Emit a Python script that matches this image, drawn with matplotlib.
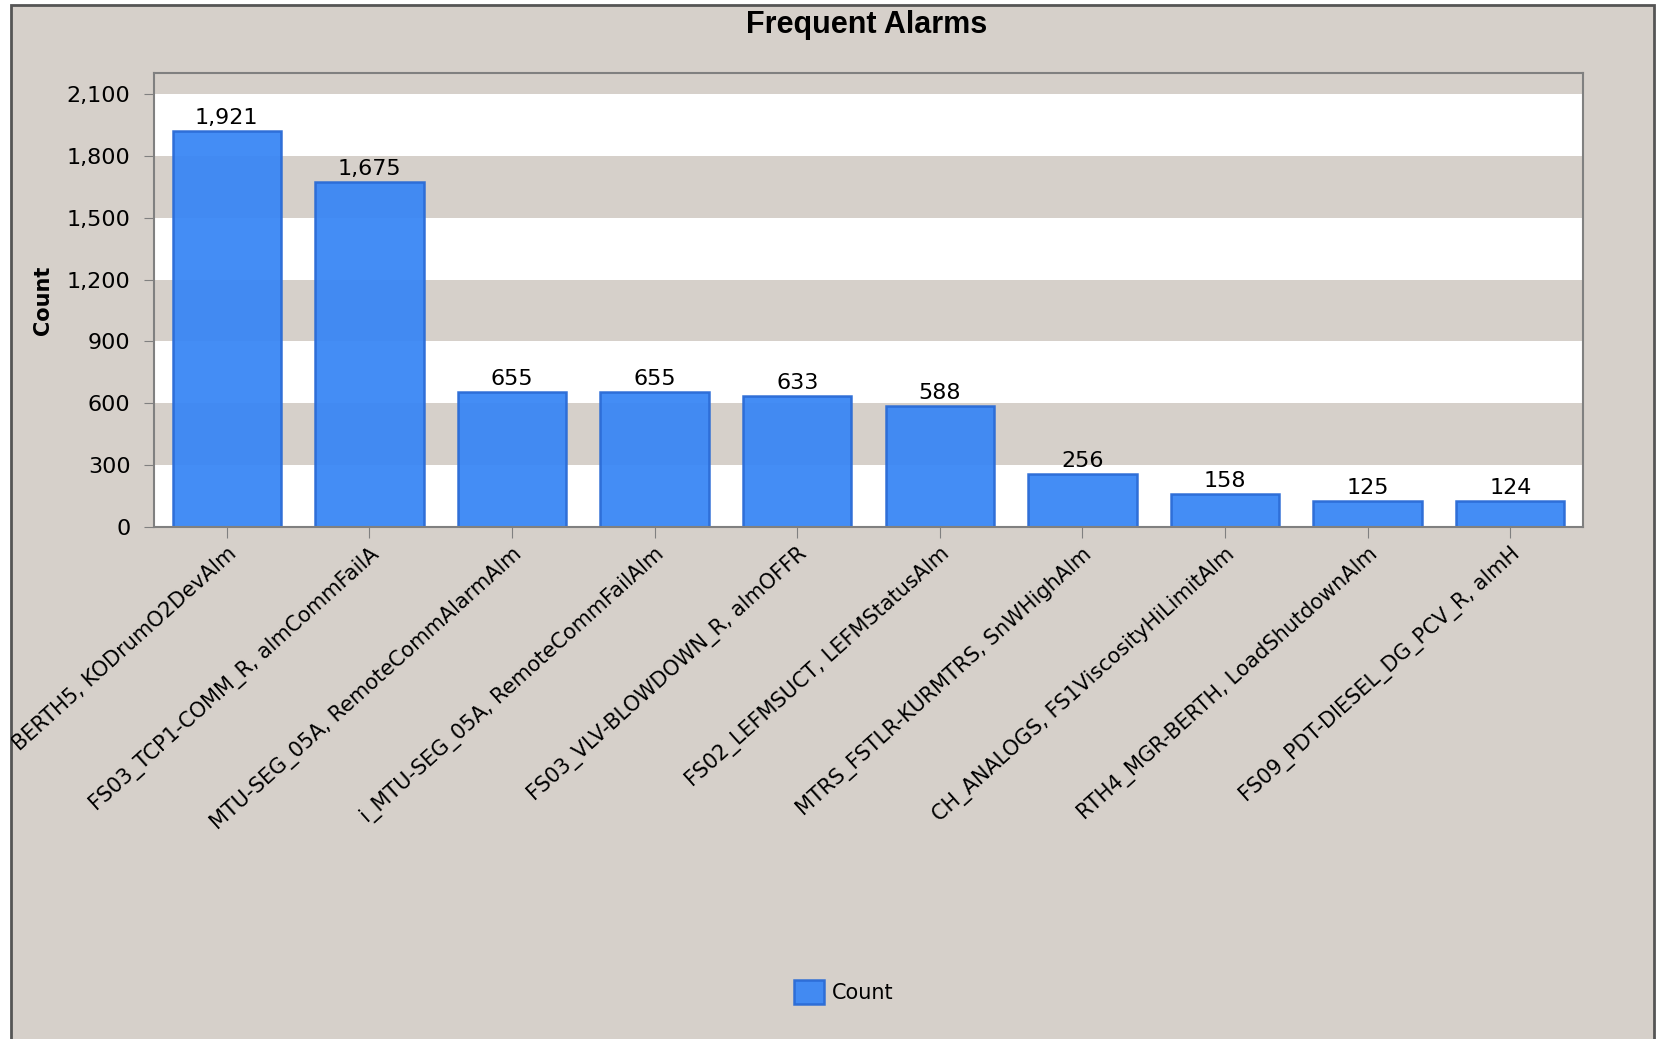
import matplotlib
matplotlib.use("Agg")
import matplotlib.pyplot as plt
from matplotlib.patches import Rectangle
from matplotlib.ticker import FuncFormatter

# data
alarms = [
    "BERTH5, KODrumO2DevAlm",
    "FS03_TCP1-COMM_R, almCommFailA",
    "MTU-SEG_05A, RemoteCommAlarmAlm",
    "i_MTU-SEG_05A, RemoteCommFailAlm",
    "FS03_VLV-BLOWDOWN_R, almOFFR",
    "FS02_LEFMSUCT, LEFMStatusAlm",
    "MTRS_FSTLR-KURMTRS, SnWHighAlm",
    "CH_ANALOGS, FS1ViscosityHiLimitAlm",
    "RTH4_MGR-BERTH, LoadShutdownAlm",
    "FS09_PDT-DIESEL_DG_PCV_R, almH",
]
counts = [1921, 1675, 655, 655, 633, 588, 256, 158, 125, 124]
y_ticks = [0, 300, 600, 900, 1200, 1500, 1800, 2100]

BG = "#d6d0ca"
BAR = "#3a87f5"
EDGE = "#2a6bd6"

plt.rcParams["font.family"] = ["DejaVu Sans"]

fig = plt.figure(figsize=(16.58, 10.39), dpi=100)
fig.patch.set_facecolor("white")

# outer panel
frame = Rectangle((11 / 1658, -0.01), (1654 - 11) / 1658, 1 - 5 / 1039 + 0.01,
                  transform=fig.transFigure, facecolor=BG, edgecolor="#555555",
                  linewidth=2, zorder=-5)
fig.patches.append(frame)

ax = fig.add_axes([154 / 1658, 1 - 527 / 1039, (1583 - 154) / 1658, (527 - 73) / 1039])
ax.set_zorder(2)
ax.set_facecolor("white")

# alternating bands
top = 2202
for lo in range(300, top, 600):
    ax.axhspan(lo, min(lo + 300, top), color=BG, lw=0, zorder=0)

x = list(range(len(counts)))
bars = ax.bar(x, counts, width=0.76, color=BAR, edgecolor=EDGE, linewidth=1.8,
              alpha=0.95, zorder=2, label="Count")

for xi, c in zip(x, counts):
    ax.text(xi, c + 15, f"{c:,}", ha="center", va="bottom", fontsize=16, zorder=3)

ax.set_xlim(-0.51, len(counts) - 0.49)
ax.set_ylim(0, top)
ax.set_yticks(y_ticks)
ax.yaxis.set_major_formatter(FuncFormatter(lambda v, p: f"{int(v):,}"))
ax.tick_params(axis="y", labelsize=16, length=7, color="#808080", pad=10)
ax.tick_params(axis="x", labelsize=15, length=8, color="#808080", pad=4)
ax.set_xticks(x)
ax.set_xticklabels(alarms, rotation=42, ha="right", rotation_mode="anchor")

# first label runs off the panel edge in the reference
ax.get_xticklabels()[0].set_clip_path(frame)

for s in ax.spines.values():
    s.set_color("#808080")
    s.set_linewidth(1.5)

ax.set_ylabel("Count", fontsize=15, fontweight="bold")
ax.yaxis.set_label_coords(-0.071, 0.5)
fig.text(867 / 1658, 1 - 25 / 1039, "Frequent Alarms", ha="center", va="center",
         fontsize=22, fontweight="bold", family="Liberation Sans")

leg = fig.legend(handles=[bars], labels=["Count"], loc="center",
                 bbox_to_anchor=(0.509, 1 - 992 / 1039), frameon=False,
                 fontsize=15, handlelength=1.4, handleheight=1.4, handletextpad=0.4)

fig.savefig("out.png", dpi=100, facecolor=fig.get_facecolor())
